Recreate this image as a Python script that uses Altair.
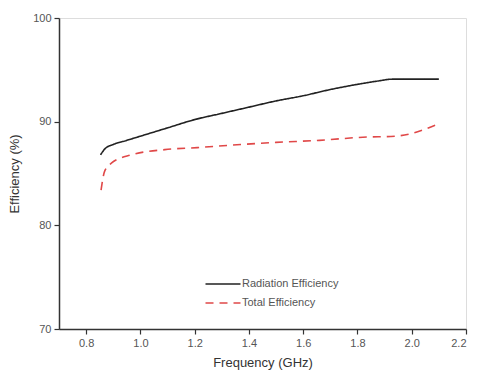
import altair as alt
import pandas as pd

# Radiation efficiency (%) versus frequency (GHz)
rad_freq = [0.853, 0.87, 0.9, 0.95, 1.0, 1.1, 1.2, 1.3, 1.4, 1.5, 1.6, 1.7, 1.8, 1.87, 1.93, 2.1]
rad_eff = [86.8, 87.4, 87.8, 88.2, 88.6, 89.4, 90.2, 90.8, 91.4, 92.0, 92.5, 93.1, 93.6, 93.9, 94.1, 94.1]

# Total efficiency (%) versus frequency (GHz)
tot_freq = [0.855, 0.868, 0.893, 0.967, 1.09, 1.21, 1.37, 1.5, 1.66, 1.82, 1.94, 1.99, 2.04, 2.09]
tot_eff = [83.4, 85.2, 86.0, 86.8, 87.3, 87.5, 87.8, 88.0, 88.2, 88.5, 88.6, 88.8, 89.2, 89.7]

series = ["Radiation Efficiency", "Total Efficiency"]

df = pd.concat([
    pd.DataFrame({"freq": rad_freq, "eff": rad_eff, "series": series[0]}),
    pd.DataFrame({"freq": tot_freq, "eff": tot_eff, "series": series[1]}),
])

axis_common = dict(
    domainColor="#333333", domainWidth=1.5,
    tickColor="#333333", tickWidth=1.2, tickSize=5,
    labelColor="#555555", labelFontSize=11, labelFont="Liberation Sans",
    titleColor="#333333", titleFontSize=13, titleFont="Liberation Sans",
    titleFontWeight="normal", grid=False,
)

# Long horizontal stroke as the legend key, with a compact row height
legend_opts = dict(orient="none", legendX=153, legendY=255,
                   symbolType="M-1.75,0H1.75", symbolSize=400,
                   symbolStrokeWidth=1.5, symbolFillColor="transparent",
                   labelFontSize=11,
                   labelFont="Liberation Sans", labelColor="#555555",
                   labelOffset=8, rowPadding=3, padding=0)

chart = alt.Chart(df).mark_line(strokeWidth=1.6, interpolate="monotone").encode(
    x=alt.X("freq:Q", title="Frequency (GHz)",
            scale=alt.Scale(domain=[0.7, 2.2], nice=False, zero=False),
            axis=alt.Axis(values=[0.8, 1.0, 1.2, 1.4, 1.6, 1.8, 2.0, 2.2], format=".1f",
                          labelPadding=3, titlePadding=8, **axis_common)),
    y=alt.Y("eff:Q", title="Efficiency (%)",
            scale=alt.Scale(domain=[70, 100], nice=False, zero=False),
            axis=alt.Axis(values=[70, 80, 90, 100], labelPadding=3, titlePadding=11,
                          **axis_common)),
    color=alt.Color("series:N", title=None,
                    scale=alt.Scale(domain=series, range=["#222222", "#e04848"]),
                    legend=alt.Legend(**legend_opts)),
    strokeDash=alt.StrokeDash("series:N", title=None,
                              scale=alt.Scale(domain=series, range=[[1, 0], [8, 6]]),
                              legend=alt.Legend(**legend_opts)),
).properties(
    width=407, height=311,
    autosize=alt.AutoSizeParams(type="none"),
    padding={"left": 59, "top": 18, "right": 11, "bottom": 51},
).configure_view(stroke=None).configure(background="white")

chart.save("out.html", embed_options={"renderer": "svg", "actions": False})
